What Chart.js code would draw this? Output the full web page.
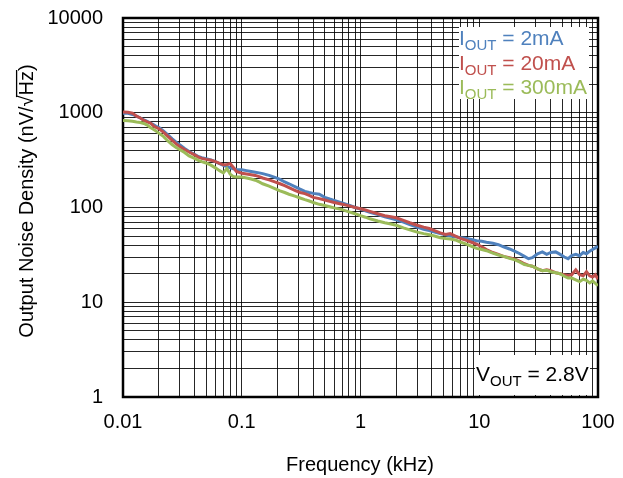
<!DOCTYPE html>
<html>
<head>
<meta charset="utf-8">
<script src="https://cdn.jsdelivr.net/npm/chart.js@4.4.1/dist/chart.umd.min.js"></script>
<style>
  html, body { margin: 0; padding: 0; background: #fff; }
  canvas { display: block; }
</style>
</head>
<body>
<canvas id="noise" width="623" height="478"></canvas>
<script>
// frequency in kHz
var freq = [0.01, 0.011, 0.012, 0.013, 0.014, 0.015, 0.016, 0.017, 0.018, 0.019,
    0.02, 0.022, 0.024, 0.026, 0.028, 0.03, 0.033, 0.036, 0.04, 0.043,
    0.046, 0.05, 0.055, 0.06, 0.065, 0.07, 0.075, 0.08, 0.085, 0.09,
    0.1, 0.11, 0.12, 0.13, 0.14, 0.15, 0.17, 0.19, 0.21, 0.23,
    0.25, 0.28, 0.31, 0.34, 0.37, 0.4, 0.45, 0.5, 0.55, 0.6,
    0.7, 0.8, 0.9, 1, 1.1, 1.2, 1.4, 1.6, 1.8, 2,
    2.3, 2.6, 3, 3.4, 3.8, 4.2, 4.7, 5.2, 5.7, 6.3,
    7, 7.8, 8.6, 9.5, 10.5, 11.5, 13, 14.5, 16, 18,
    20, 22, 24, 26, 28, 31, 34, 37, 40, 44,
    48, 52, 56, 60, 65, 70, 75, 80, 85, 90,
    95, 100];

// output noise density, nV/rtHz
var iout2mA = [990, 985, 960, 920, 880, 840, 810, 780, 750, 720,
    700, 640, 580, 530, 490, 460, 420, 390, 365, 345,
    335, 328, 318, 305, 290, 278, 270, 262, 256, 252,
    250, 245, 240, 236, 232, 228, 218, 208, 198, 186,
    178, 166, 156, 148, 144, 141, 138, 128, 123, 119,
    112, 106, 100, 96, 92, 89, 84, 80, 77, 74,
    70, 66, 62, 59, 57, 55, 53, 51.5, 50, 49,
    48, 47, 46, 44.5, 44, 43, 42, 40.5, 38.5, 36.5,
    34.5, 32.5, 30.5, 28.8, 29.5, 32.5, 34, 32, 33.5, 34,
    32, 30, 28.8, 31, 32, 31, 33.5, 32.5, 34.5, 36,
    37.5, 39];

var iout20mA = [1020, 1010, 990, 920, 880, 830, 800, 780, 730, 700,
    680, 620, 560, 510, 470, 440, 410, 385, 360, 340,
    330, 322, 316, 305, 292, 282, 285, 290, 265, 240,
    230, 226, 222, 218, 212, 205, 196, 186, 178, 170,
    162, 152, 144, 140, 134, 128, 124, 120, 116, 113,
    108, 104, 100, 97, 94, 91, 86, 82, 80, 78,
    73, 69, 65, 62, 60, 57, 54, 52, 53, 50,
    47, 45, 43, 41, 38.5, 36, 33.5, 32, 30.5, 29.5,
    28.5, 27, 25.5, 24.5, 24, 22.5, 21.5, 22, 21.5, 20.5,
    20, 19.5, 19.2, 19.5, 22, 19.5, 19, 21, 19, 18.5,
    19.5, 17.5];

var iout300mA = [830, 825, 815, 800, 790, 770, 740, 700, 670, 640,
    610, 560, 500, 460, 430, 410, 380, 350, 330, 315,
    305, 295, 280, 262, 245, 232, 258, 225, 212, 210,
    210, 205, 200, 194, 186, 178, 168, 158, 150, 144,
    138, 132, 126, 121, 117, 113, 108, 105, 102, 99,
    95, 90, 86, 82, 79, 76, 72, 69, 67, 65,
    61, 58, 55, 53, 51.5, 50, 48, 47, 46.5, 45.5,
    43, 41, 39, 37, 36, 35, 33, 31.5, 30.5, 29,
    28, 26.5, 25, 24.5, 24, 22.5, 21.5, 21.8, 21, 20.5,
    20, 18.8, 18, 18, 17.2, 16.5, 17.5, 17, 16, 16.8,
    15.8, 15];

var seriesNames = ['2mA', '20mA', '300mA'];
var seriesColors = ['#4F81BD', '#C0504D', '#9BBB59'];

var xTickValues = [0.01, 0.1, 1, 10, 100];
var xTickLabels = ['0.01', '0.1', '1', '10', '100'];
var yTickValues = [1, 10, 100, 1000, 10000];
var yTickLabels = ['1', '10', '100', '1000', '10000'];

var FONT = "'Liberation Sans', Arial, sans-serif";

function points(ys) {
    return freq.map(function (f, i) { return { x: f, y: ys[i] }; });
}

// 1..9 in every decade between the first and last major tick
function logGrid(majors) {
    var out = [];
    for (var d = 0; d < majors.length - 1; d++) {
        for (var m = 1; m < 10; m++) out.push(majors[d] * m);
    }
    out.push(majors[majors.length - 1]);
    return out;
}

function labelFor(values, labels) {
    return function (value) {
        for (var i = 0; i < values.length; i++) {
            if (Math.abs(values[i] - value) / values[i] < 1e-6) return labels[i];
        }
        return '';
    };
}

// no extra room for overhanging tick labels, layout.padding decides the plot box
function noOverhang(scale) {
    scale.paddingTop = 0;
    scale.paddingBottom = 0;
    scale.paddingLeft = 0;
    scale.paddingRight = 0;
}

function drawSub(ctx, x, y, main, sub, rest, color, size, subSize, drop) {
    ctx.fillStyle = color;
    ctx.textAlign = 'left';
    ctx.textBaseline = 'alphabetic';
    ctx.font = size + 'px ' + FONT;
    ctx.fillText(main, x, y);
    x += ctx.measureText(main).width;
    ctx.font = subSize + 'px ' + FONT;
    ctx.fillText(sub, x, y + drop);
    x += ctx.measureText(sub).width;
    ctx.font = size + 'px ' + FONT;
    ctx.fillText(rest, x, y);
}

var decor = {
    id: 'decor',
    beforeDatasetsDraw: function (chart) {
        var ctx = chart.ctx, a = chart.chartArea;
        ctx.save();
        ctx.strokeStyle = '#000';
        ctx.lineWidth = 2.5;
        ctx.strokeRect(a.left, a.top, a.right - a.left, a.bottom - a.top);
        ctx.restore();
    },
    afterDraw: function (chart) {
        var ctx = chart.ctx;
        ctx.save();

        // legend box
        ctx.fillStyle = '#fff';
        ctx.fillRect(459, 27, 130, 72);
        var rows = [45.3, 69.8, 94.3];
        for (var i = 0; i < seriesNames.length; i++) {
            drawSub(ctx, 459, rows[i], 'I', 'OUT', ' = ' + seriesNames[i], seriesColors[i], 21, 15, 5);
        }

        // VOUT note
        ctx.fillStyle = '#fff';
        ctx.fillRect(475, 355, 115, 40);
        drawSub(ctx, 476, 381, 'V', 'OUT', ' = 2.8V', '#000', 21, 15, 4.5);

        // x title
        ctx.fillStyle = '#000';
        ctx.font = '20px ' + FONT;
        ctx.textAlign = 'center';
        ctx.textBaseline = 'alphabetic';
        ctx.fillText('Frequency (kHz)', 360, 471);

        // y title with overline over Hz
        var pre = 'Output Noise Density (nV/';
        var rad = '\u221A';
        var hz = 'Hz';
        var post = ')';
        ctx.translate(33, 201);
        ctx.rotate(-Math.PI / 2);
        ctx.textAlign = 'left';
        var wPre = ctx.measureText(pre).width;
        var wRad = ctx.measureText(rad).width;
        var wHz = ctx.measureText(hz).width;
        var total = ctx.measureText(pre + rad + hz + post).width;
        var x0 = -total / 2;
        ctx.fillText(pre + rad + hz + post, x0, 0);
        var top = ctx.measureText(rad).actualBoundingBoxAscent || 17;
        ctx.strokeStyle = '#000';
        ctx.lineWidth = 1.3;
        ctx.beginPath();
        ctx.moveTo(x0 + wPre + wRad * 0.85, -top + 0.6);
        ctx.lineTo(x0 + wPre + wRad + wHz + 1, -top + 0.6);
        ctx.stroke();

        ctx.restore();
    }
};

var gridStyle = {
    color: 'rgba(0,0,0,0.85)',
    lineWidth: 1,
    drawTicks: false
};

var noiseChart = new Chart(document.getElementById('noise'), {
    type: 'line',
    data: {
        datasets: [
            // lower order is painted later: green on top, blue underneath
            { label: 'IOUT = 2mA', data: points(iout2mA), borderColor: seriesColors[0], order: 2 },
            { label: 'IOUT = 20mA', data: points(iout20mA), borderColor: seriesColors[1], order: 1 },
            { label: 'IOUT = 300mA', data: points(iout300mA), borderColor: seriesColors[2], order: 0 }
        ]
    },
    options: {
        responsive: false,
        animation: false,
        devicePixelRatio: 1,
        layout: { padding: { top: 18, right: 25, left: 0, bottom: 0 } },
        elements: {
            line: { borderWidth: 3, tension: 0 },
            point: { radius: 0 }
        },
        plugins: {
            legend: { display: false },
            tooltip: { enabled: false }
        },
        scales: {
            x: {
                type: 'logarithmic',
                min: 0.01,
                max: 100,
                grid: gridStyle,
                border: { display: false },
                afterBuildTicks: function (scale) {
                    scale.ticks = logGrid(xTickValues).map(function (v) { return { value: v }; });
                },
                afterFit: function (scale) { scale.height = 81; noOverhang(scale); },
                ticks: {
                    autoSkip: false,
                    maxRotation: 0,
                    padding: 13,
                    color: '#000',
                    font: { family: FONT, size: 20 },
                    callback: labelFor(xTickValues, xTickLabels)
                }
            },
            y: {
                type: 'logarithmic',
                min: 1,
                max: 10000,
                grid: gridStyle,
                border: { display: false },
                afterBuildTicks: function (scale) {
                    scale.ticks = logGrid(yTickValues).map(function (v) { return { value: v }; });
                },
                afterFit: function (scale) { scale.width = 123; noOverhang(scale); },
                ticks: {
                    autoSkip: false,
                    padding: 20,
                    color: '#000',
                    font: { family: FONT, size: 20 },
                    callback: labelFor(yTickValues, yTickLabels)
                }
            }
        }
    },
    plugins: [decor]
});
</script>
</body>
</html>
